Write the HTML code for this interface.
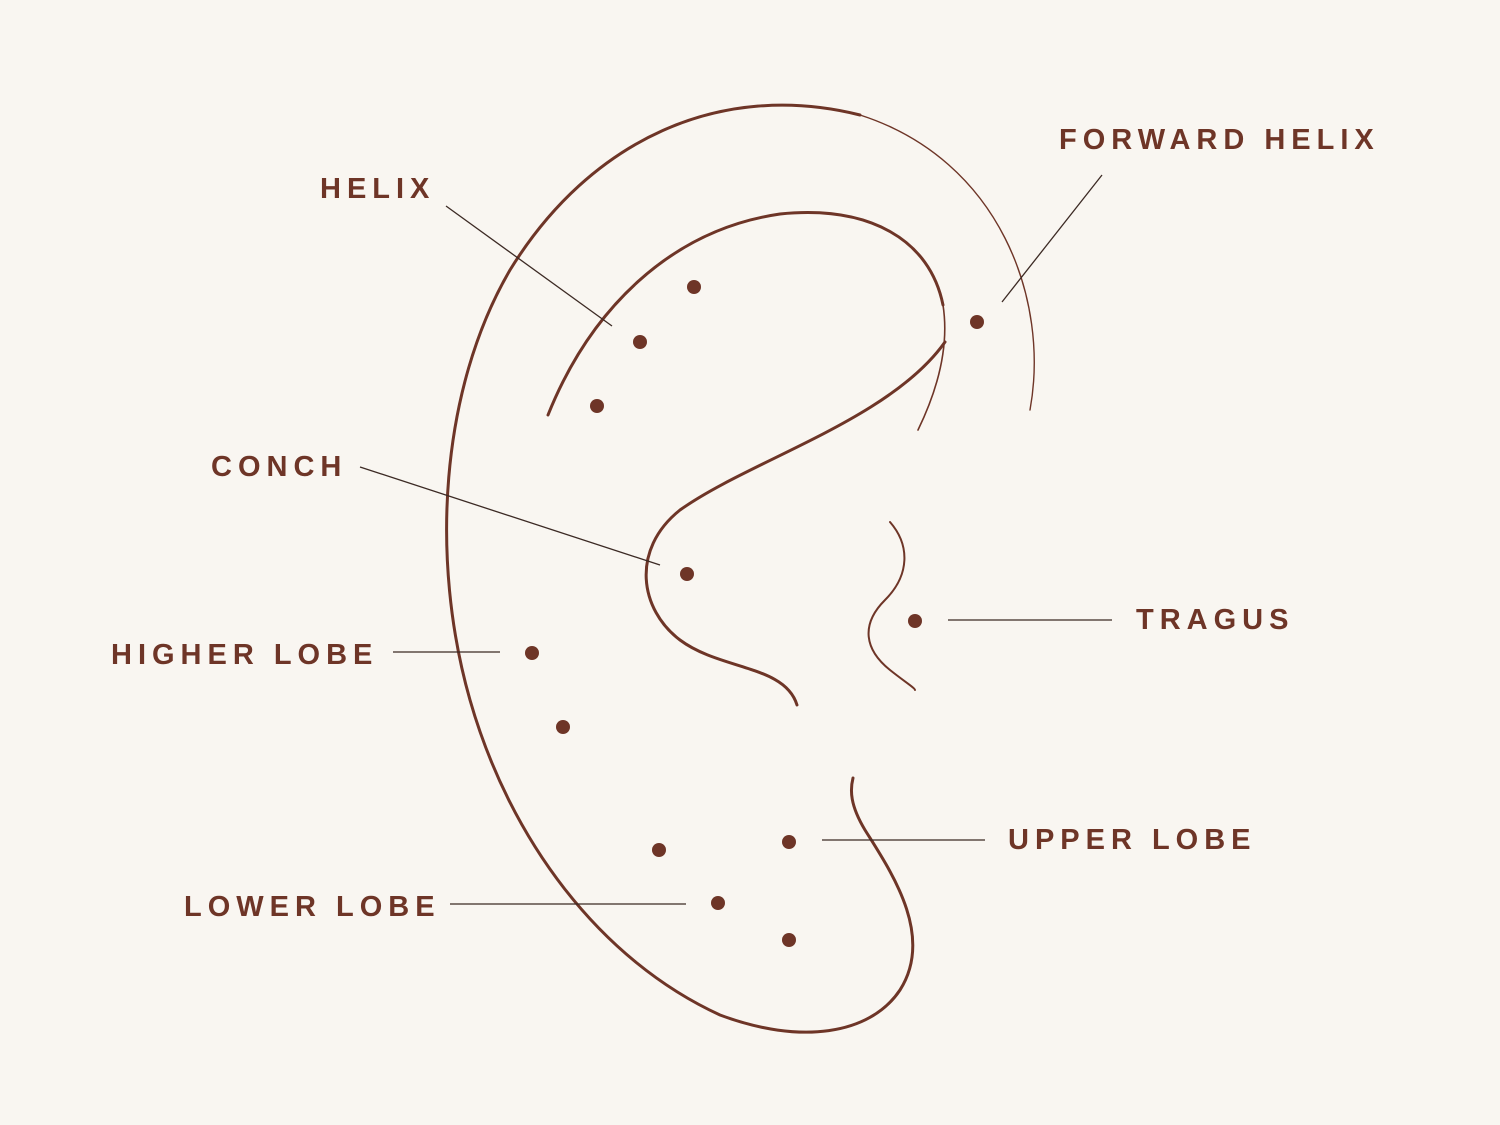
<!DOCTYPE html>
<html><head><meta charset="utf-8"><style>
html,body{margin:0;padding:0;background:#f9f6f1;}
svg{display:block}
text{font-family:"Liberation Sans",sans-serif;font-weight:bold;font-size:29px;fill:#6e3527;letter-spacing:6px}
</style></head><body>
<svg width="1500" height="1125" viewBox="0 0 1500 1125" xmlns="http://www.w3.org/2000/svg">
<rect width="1500" height="1125" fill="#f9f6f1"/>
<g fill="none" stroke="#6e3527" stroke-linecap="round">
<!-- outer ear -->
<path d="M1030 410 C1050 300 1000 160 860 115" stroke-width="1.4"/>
<path d="M860 115 C720 80 590 140 510 270 C440 390 430 560 470 700 C510 840 600 960 720 1015 C800 1045 870 1035 900 990 C935 935 890 870 865 830 C850 805 850 790 853 778" stroke-width="3"/>
<!-- inner helix -->
<path d="M548 415 C590 310 670 230 780 214 C870 205 930 240 943 305" stroke-width="3"/>
<path d="M943 305 C950 350 935 395 918 430" stroke-width="1.6"/>
<!-- antihelix / conch -->
<path d="M945 342 C890 420 750 460 680 510 C630 550 640 610 680 640 C720 670 785 665 797 705" stroke-width="3"/>
<!-- tragus -->
<path d="M890 522 C910 545 910 575 885 600 C860 625 865 650 890 670 C905 682 915 688 915 690" stroke-width="2"/>
</g>
<g stroke="#3c2a24" stroke-width="1.3">
<line x1="446" y1="206" x2="612" y2="326"/>
<line x1="1102" y1="175" x2="1002" y2="302"/>
<line x1="360" y1="467" x2="660" y2="565"/>
<line x1="948" y1="620" x2="1112" y2="620"/>
<line x1="393" y1="652" x2="500" y2="652"/>
<line x1="822" y1="840" x2="985" y2="840"/>
<line x1="450" y1="904" x2="686" y2="904"/>
</g>
<g fill="#6e3527">
<circle cx="694" cy="287" r="7"/>
<circle cx="640" cy="342" r="7"/>
<circle cx="597" cy="406" r="7"/>
<circle cx="977" cy="322" r="7"/>
<circle cx="687" cy="574" r="7"/>
<circle cx="915" cy="621" r="7"/>
<circle cx="532" cy="653" r="7"/>
<circle cx="563" cy="727" r="7"/>
<circle cx="659" cy="850" r="7"/>
<circle cx="789" cy="842" r="7"/>
<circle cx="718" cy="903" r="7"/>
<circle cx="789" cy="940" r="7"/>
</g>
<text x="320" y="198">HELIX</text>
<text x="1059" y="149">FORWARD HELIX</text>
<text x="211" y="476">CONCH</text>
<text x="1136" y="629">TRAGUS</text>
<text x="111" y="664">HIGHER LOBE</text>
<text x="1008" y="849">UPPER LOBE</text>
<text x="184" y="916">LOWER LOBE</text>
</svg>
</body></html>
